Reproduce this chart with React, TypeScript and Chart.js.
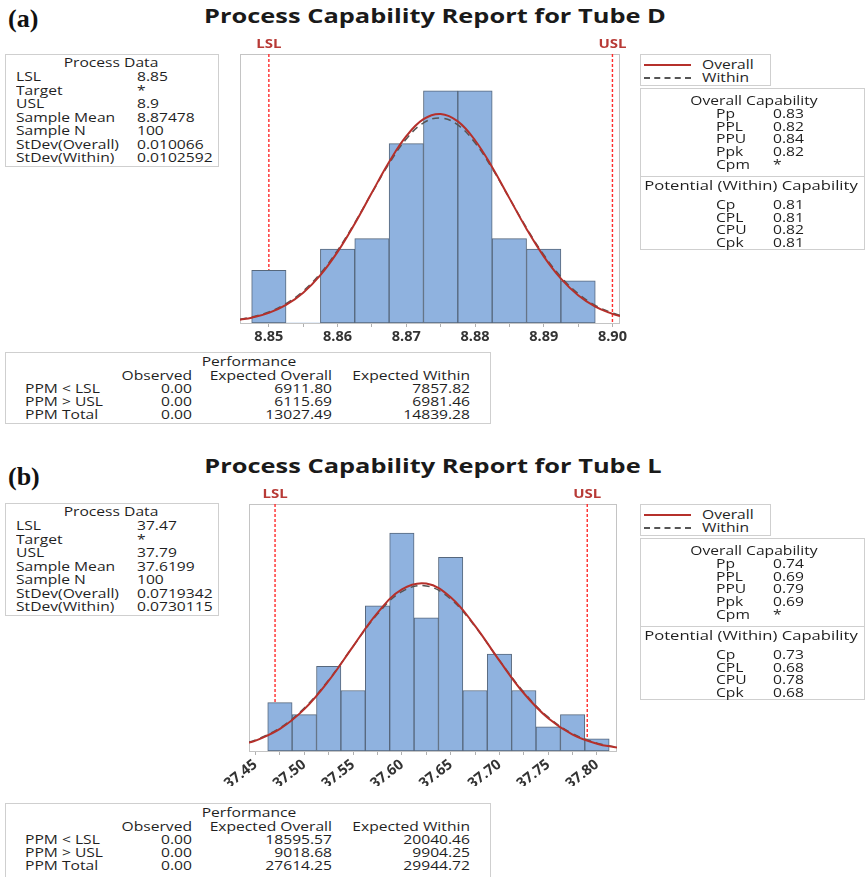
import React, { useEffect, useRef } from "react";
import { Chart, registerables } from "chart.js";
Chart.register(...registerables);

// ---------------- Panel (a): Tube D ----------------
const titleA = "Process Capability Report for Tube D";
const binCentersA = [8.85, 8.855, 8.86, 8.865, 8.87, 8.875, 8.88, 8.885, 8.89, 8.895];
const countsA = [5, 0, 7, 8, 17, 22, 22, 8, 7, 4];
const curveXA = [8.8458, 8.8475, 8.85, 8.8525, 8.855, 8.8575, 8.86, 8.8625, 8.865, 8.8675, 8.87, 8.8725, 8.875, 8.8775, 8.88, 8.8825, 8.885, 8.8875, 8.89, 8.8925, 8.895, 8.8975, 8.9, 8.9011];
const overallA = [0.314, 0.504, 0.957, 1.711, 2.875, 4.541, 6.744, 9.418, 12.363, 15.26, 17.706, 19.318, 19.815, 19.11, 17.326, 14.77, 11.838, 8.92, 6.319, 4.209, 2.636, 1.552, 0.859, 0.649];
const withinA = [0.36, 0.567, 1.052, 1.839, 3.031, 4.706, 6.887, 9.498, 12.344, 15.116, 17.443, 18.969, 19.439, 18.772, 17.083, 14.648, 11.838, 9.014, 6.469, 4.374, 2.788, 1.674, 0.947, 0.724];
const tickValuesA = [8.85, 8.855, 8.86, 8.865, 8.87, 8.875, 8.88, 8.885, 8.89, 8.895, 8.9];
const tickLabelsA = ["8.85", "", "8.86", "", "8.87", "", "8.88", "", "8.89", "", "8.90"];
const lslA = 8.85;
const uslA = 8.9;
const processValuesA = ["8.85", "*", "8.9", "8.87478", "100", "0.010066", "0.0102592"];
const overallCapValuesA = ["0.83", "0.82", "0.84", "0.82", "*"];
const potentialCapValuesA = ["0.81", "0.81", "0.82", "0.81"];
const perfObservedA = ["0.00", "0.00", "0.00"];
const perfExpOverallA = ["6911.80", "6115.69", "13027.49"];
const perfExpWithinA = ["7857.82", "6981.46", "14839.28"];

// ---------------- Panel (b): Tube L ----------------
const titleB = "Process Capability Report for Tube L";
const binCentersB = [37.475, 37.5, 37.525, 37.55, 37.575, 37.6, 37.625, 37.65, 37.675, 37.7, 37.725, 37.75, 37.775, 37.8];
const countsB = [4, 3, 7, 5, 12, 18, 11, 16, 5, 8, 5, 2, 3, 1];
const curveXB = [37.4433, 37.45, 37.475, 37.5, 37.525, 37.55, 37.575, 37.6, 37.625, 37.65, 37.675, 37.7, 37.725, 37.75, 37.775, 37.8, 37.8205];
const overallB = [0.681, 0.852, 1.823, 3.457, 5.808, 8.648, 11.411, 13.345, 13.83, 12.703, 10.34, 7.459, 4.768, 2.702, 1.356, 0.604, 0.284];
const withinB = [0.733, 0.911, 1.906, 3.547, 5.869, 8.638, 11.307, 13.162, 13.627, 12.547, 10.274, 7.483, 4.847, 2.792, 1.43, 0.652, 0.314];
const tickValuesB = [37.45, 37.475, 37.5, 37.525, 37.55, 37.575, 37.6, 37.625, 37.65, 37.675, 37.7, 37.725, 37.75, 37.775, 37.8];
const tickLabelsB = ["37.45", "", "37.50", "", "37.55", "", "37.60", "", "37.65", "", "37.70", "", "37.75", "", "37.80"];
const lslB = 37.47;
const uslB = 37.79;
const processValuesB = ["37.47", "*", "37.79", "37.6199", "100", "0.0719342", "0.0730115"];
const overallCapValuesB = ["0.74", "0.69", "0.79", "0.69", "*"];
const potentialCapValuesB = ["0.73", "0.68", "0.78", "0.68"];
const perfObservedB = ["0.00", "0.00", "0.00"];
const perfExpOverallB = ["18595.57", "9018.68", "27614.25"];
const perfExpWithinB = ["20040.46", "9904.25", "29944.72"];

// ---------------- shared labels ----------------
const processLabels = ["LSL", "Target", "USL", "Sample Mean", "Sample N", "StDev(Overall)", "StDev(Within)"];
const overallCapLabels = ["Pp", "PPL", "PPU", "Ppk", "Cpm"];
const potentialCapLabels = ["Cp", "CPL", "CPU", "Cpk"];
const perfRowLabels = ["PPM < LSL", "PPM > USL", "PPM Total"];
const perfHeaders = ["Observed", "Expected Overall", "Expected Within"];

const FONT = '"Open Sans", "Noto Sans", sans-serif';
const TXT = "#1f1f1f";
const RED = "#b5302b";
const GRAY = "#555555";
const SX = 1.25;

type Spec = {
  binCenters: number[]; counts: number[]; curveX: number[]; overall: number[]; within: number[];
  tickValues: number[]; tickLabels: string[]; lsl: number; usl: number;
  xMin: number; xMax: number; yMax: number; rot: number; tickFont: number;
  canvas: { left: number; top: number; w: number; h: number };
  pad: { l: number; r: number; t: number; b: number }; axisH: number;
};

function HistChart({ s }: { s: Spec }) {
  const ref = useRef<HTMLCanvasElement>(null);
  useEffect(() => {
    const specPlugin = {
      id: "specLines",
      beforeDatasetsDraw(chart: any) {
        const { ctx, chartArea: a } = chart;
        const x = chart.scales.x;
        ctx.save();
        ctx.strokeStyle = "#c4c4c4";
        ctx.lineWidth = 1;
        ctx.setLineDash([]);
        ctx.strokeRect(Math.round(a.left) + 0.5, Math.round(a.top) + 0.5, Math.round(a.right - a.left) - 1, Math.round(a.bottom - a.top));
        ctx.strokeStyle = "#ff2b2b";
        ctx.lineWidth = 1.4;
        ctx.setLineDash([3, 2]);
        for (const v of [s.lsl, s.usl]) {
          const px = x.getPixelForValue(v);
          ctx.beginPath();
          ctx.moveTo(px, a.top);
          ctx.lineTo(px, a.bottom);
          ctx.stroke();
        }
        ctx.restore();
      },
      afterDraw(chart: any) {
        const { ctx, chartArea: a } = chart;
        const x = chart.scales.x;
        ctx.fillStyle = "#b83a36";
        ctx.font = `bold 12px ${FONT}`;
        ctx.textAlign = "center";
        ctx.textBaseline = "middle";
        for (const [t, v] of [["LSL", s.lsl], ["USL", s.usl]] as [string, number][]) {
          ctx.save();
          ctx.translate(x.getPixelForValue(v), a.top - 9);
          ctx.scale(SX, 1);
          ctx.fillText(t, 0, 0);
          ctx.restore();
        }
      },
    };
    const chart = new Chart(ref.current as HTMLCanvasElement, {
      type: "bar",
      data: {
        datasets: [
          {
            type: "line",
            label: "Overall",
            data: s.curveX.map((x, i) => ({ x, y: s.overall[i] })),
            borderColor: RED,
            borderWidth: 2,
            pointRadius: 0,
            tension: 0.4,
            order: 1,
          } as any,
          {
            type: "line",
            label: "Within",
            data: s.curveX.map((x, i) => ({ x, y: s.within[i] })),
            borderColor: GRAY,
            borderWidth: 1.5,
            borderDash: [7, 5],
            pointRadius: 0,
            tension: 0.4,
            order: 2,
          } as any,
          {
            type: "bar",
            label: "Count",
            data: s.binCenters.map((x, i) => ({ x, y: s.counts[i] })),
            backgroundColor: "#8fb2df",
            borderColor: "#56677c",
            borderWidth: (c: any) => (c.raw && c.raw.y > 0 ? 1 : 0),
            borderSkipped: false,
            barPercentage: 1,
            categoryPercentage: 1,
            order: 3,
          } as any,
        ],
      },
      options: {
        animation: false,
        responsive: false,
        maintainAspectRatio: false,
        layout: { padding: { left: s.pad.l, right: s.pad.r, top: s.pad.t, bottom: s.pad.b } },
        plugins: { legend: { display: false }, tooltip: { enabled: false } },
        scales: {
          x: {
            type: "linear",
            min: s.xMin,
            max: s.xMax,
            offset: false,
            afterBuildTicks: (axis: any) => {
              axis.ticks = s.tickValues.map((v) => ({ value: v }));
            },
            afterFit: (scale: any) => {
              scale.height = s.axisH;
            },
            ticks: {
              autoSkip: false,
              minRotation: s.rot,
              maxRotation: s.rot,
              padding: 1,
              color: "#333333",
              font: { family: FONT, size: s.tickFont, weight: "bold" },
              callback: (_v: any, i: number) => s.tickLabels[i],
            },
            grid: { drawOnChartArea: false, drawTicks: true, tickLength: 4, color: "#b0b0b0", offset: false },
            border: { display: false },
          },
          y: { display: false, min: 0, max: s.yMax },
        },
      } as any,
      plugins: [specPlugin],
    });
    return () => chart.destroy();
  }, []);
  return (
    <canvas
      ref={ref}
      width={s.canvas.w}
      height={s.canvas.h}
      style={{ position: "absolute", left: s.canvas.left, top: s.canvas.top, width: s.canvas.w, height: s.canvas.h }}
    />
  );
}

function Txt({ x, cy, align = "left", children, size = 12.5, sx = SX }: any) {
  const st: any = { position: "absolute", top: cy - 9, height: 18, lineHeight: "18px", fontSize: size, whiteSpace: "nowrap", transform: `scaleX(${sx})` };
  if (align === "left") { st.left = x; st.transformOrigin = "left center"; }
  else if (align === "right") { st.left = x - 300; st.width = 300; st.textAlign = "right"; st.transformOrigin = "right center"; }
  else { st.left = x - 200; st.width = 400; st.textAlign = "center"; st.transformOrigin = "center center"; }
  return <div style={st}>{children}</div>;
}

function Box({ left, top, w, h, children }: any) {
  return (
    <div style={{ position: "absolute", left, top, width: w, height: h, border: "1px solid #cfcfcf", boxSizing: "border-box" }}>
      {children}
    </div>
  );
}

function ProcessBox({ top, values }: any) {
  return (
    <Box left={5} top={top} w={214} h={113}>
      <Txt x={105} cy={8} align="center">Process Data</Txt>
      {processLabels.map((l, i) => (
        <React.Fragment key={l}>
          <Txt x={10} cy={22 + i * 13.5}>{l}</Txt>
          <Txt x={131} cy={22 + i * 13.5}>{values[i]}</Txt>
        </React.Fragment>
      ))}
    </Box>
  );
}

function LegendBox({ top }: any) {
  return (
    <Box left={640} top={top} w={131} h={32}>
      <div style={{ position: "absolute", left: 3, top: 9, width: 47, height: 0, borderTop: `2px solid ${RED}` }} />
      <div style={{ position: "absolute", left: 3, top: 22, width: 47, height: 0, borderTop: `2px dashed ${GRAY}` }} />
      <Txt x={61} cy={10}>Overall</Txt>
      <Txt x={61} cy={22.5}>Within</Txt>
    </Box>
  );
}

function CapBox({ top, ov, pot }: any) {
  return (
    <Box left={640} top={top} w={225} h={162}>
      <Txt x={113} cy={12} align="center">Overall Capability</Txt>
      {overallCapLabels.map((l, i) => (
        <React.Fragment key={l}>
          <Txt x={75} cy={25 + i * 12.7}>{l}</Txt>
          <Txt x={132} cy={25 + i * 12.7}>{ov[i]}</Txt>
        </React.Fragment>
      ))}
      <div style={{ position: "absolute", left: 0, right: 0, top: 87, borderTop: "1px solid #cfcfcf" }} />
      <Txt x={110} cy={97} align="center" sx={1.33}>Potential (Within) Capability</Txt>
      {potentialCapLabels.map((l, i) => (
        <React.Fragment key={l}>
          <Txt x={75} cy={116 + i * 12.5}>{l}</Txt>
          <Txt x={132} cy={116 + i * 12.5}>{pot[i]}</Txt>
        </React.Fragment>
      ))}
    </Box>
  );
}

function PerfBox({ top, h, obs, eo, ew }: any) {
  return (
    <Box left={5} top={top} w={486} h={h}>
      <Txt x={243} cy={8.5} align="center">Performance</Txt>
      <Txt x={186} cy={23} align="right">{perfHeaders[0]}</Txt>
      <Txt x={326} cy={23} align="right">{perfHeaders[1]}</Txt>
      <Txt x={464} cy={23} align="right">{perfHeaders[2]}</Txt>
      {perfRowLabels.map((l, i) => (
        <React.Fragment key={l}>
          <Txt x={19} cy={36 + i * 13.2}>{l}</Txt>
          <Txt x={186} cy={36 + i * 13.2} align="right">{obs[i]}</Txt>
          <Txt x={326} cy={36 + i * 13.2} align="right">{eo[i]}</Txt>
          <Txt x={464} cy={36 + i * 13.2} align="right">{ew[i]}</Txt>
        </React.Fragment>
      ))}
    </Box>
  );
}

const specA: Spec = {
  binCenters: binCentersA, counts: countsA, curveX: curveXA, overall: overallA, within: withinA,
  tickValues: tickValuesA, tickLabels: tickLabelsA, lsl: lslA, usl: uslA,
  xMin: 8.8458, xMax: 8.9011, yMax: 25.5, rot: 0, tickFont: 14.5,
  canvas: { left: 220, top: 30, w: 420, h: 320 },
  pad: { l: 20, r: 20, t: 24, b: 7 }, axisH: 20,
};

const specB: Spec = {
  binCenters: binCentersB, counts: countsB, curveX: curveXB, overall: overallB, within: withinB,
  tickValues: tickValuesB, tickLabels: tickLabelsB, lsl: lslB, usl: uslB,
  xMin: 37.4433, xMax: 37.8205, yMax: 20.4, rot: 38, tickFont: 14.5,
  canvas: { left: 190, top: 470, w: 447, h: 330 },
  pad: { l: 59, r: 20, t: 34, b: 14 }, axisH: 35,
};

const serifLabel: any = { position: "absolute", left: 8, fontFamily: '"Liberation Serif", "Times New Roman", serif', fontWeight: "bold", fontSize: 26, lineHeight: "34px", color: "#111" };
const titleStyle: any = { position: "absolute", width: 600, textAlign: "center", fontWeight: "bold", fontSize: 20, lineHeight: "28px", color: "#1a1a1a", transform: "scaleX(1.27)", transformOrigin: "center center", whiteSpace: "nowrap" };

export default function App() {
  return (
    <div style={{ position: "absolute", left: 0, top: 0, width: 866, height: 877, background: "#fff", overflow: "hidden", fontFamily: FONT, color: TXT }}>
      <div style={{ ...serifLabel, top: 2 }}>(a)</div>
      <div style={{ ...titleStyle, left: 135, top: 2 }}>{titleA}</div>
      <ProcessBox top={54} values={processValuesA} />
      <HistChart s={specA} />
      <LegendBox top={54} />
      <CapBox top={88} ov={overallCapValuesA} pot={potentialCapValuesA} />
      <PerfBox top={352} h={72} obs={perfObservedA} eo={perfExpOverallA} ew={perfExpWithinA} />

      <div style={{ ...serifLabel, top: 460 }}>(b)</div>
      <div style={{ ...titleStyle, left: 133, top: 452 }}>{titleB}</div>
      <ProcessBox top={503} values={processValuesB} />
      <HistChart s={specB} />
      <LegendBox top={504} />
      <CapBox top={538} ov={overallCapValuesB} pot={potentialCapValuesB} />
      <PerfBox top={803} h={76} obs={perfObservedB} eo={perfExpOverallB} ew={perfExpWithinB} />
    </div>
  );
}
